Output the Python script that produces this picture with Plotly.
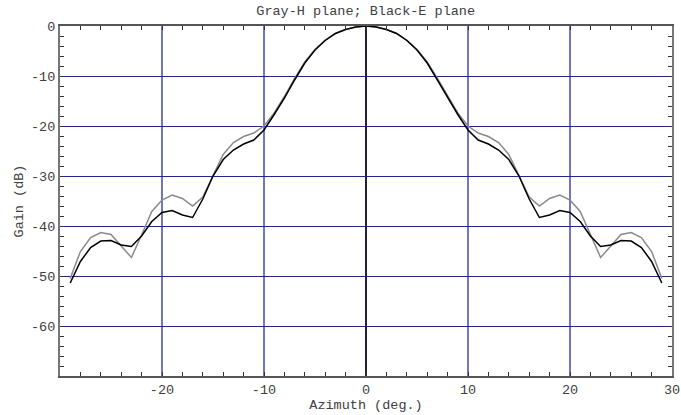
import plotly.graph_objects as go

azimuth = list(range(-29, 30))

e_plane = [-51.4, -47.1, -44.3, -43.0, -42.9, -43.8, -44.1, -42.0, -39.1, -37.3,
           -36.9, -37.8, -38.3, -34.6, -30.0, -26.7, -24.8, -23.6, -22.8, -20.8,
           -17.7, -14.4, -10.8, -7.4, -4.8, -2.9, -1.5, -0.7, -0.2, 0.0,
           -0.2, -0.7, -1.5, -2.9, -4.8, -7.4, -10.8, -14.4, -17.7, -20.8,
           -22.8, -23.6, -24.8, -26.7, -30.0, -34.6, -38.3, -37.8, -36.9, -37.3,
           -39.1, -42.0, -44.1, -43.8, -42.9, -43.0, -44.3, -47.1, -51.4]

h_plane = [-50.5, -45.1, -42.3, -41.3, -41.7, -44.0, -46.3, -41.8, -37.1, -34.8,
           -33.8, -34.5, -36.0, -34.2, -29.8, -25.7, -23.3, -22.1, -21.4, -20.0,
           -17.4, -14.1, -10.5, -7.2, -4.7, -2.8, -1.5, -0.7, -0.2, 0.0,
           -0.2, -0.7, -1.5, -2.8, -4.7, -7.2, -10.5, -14.1, -17.4, -20.0,
           -21.4, -22.1, -23.3, -25.7, -29.8, -34.2, -36.0, -34.5, -33.8, -34.8,
           -37.1, -41.8, -46.3, -44.0, -41.7, -41.3, -42.3, -45.1, -50.5]

x_tickvals = [-20, -10, 0, 10, 20, 30]
x_ticktext = ["-20", "-10", "0", "10", "20", "30"]
y_tickvals = [0, -10, -20, -30, -40, -50, -60]
y_ticktext = ["0", "-10", "-20", "-30", "-40", "-50", "-60"]

FONT = "Liberation Mono, Courier New, monospace"
FS = 13.5
TXT = "#404040"

fig = go.Figure()
fig.add_trace(go.Scatter(x=azimuth, y=h_plane, mode="lines",
                         line=dict(color="#8a8a8a", width=1.5), name="H plane"))
fig.add_trace(go.Scatter(x=azimuth, y=e_plane, mode="lines",
                         line=dict(color="#000000", width=1.5), name="E plane"))

fig.update_layout(
    width=681, height=415,
    margin=dict(l=60, r=9, t=26, b=39),
    paper_bgcolor="white", plot_bgcolor="white",
    showlegend=False,
    font=dict(family=FONT, size=FS, color=TXT),
    title=dict(text="Gray-H plane; Black-E plane", x=0.537, xanchor="center",
               y=0.976, yanchor="middle", automargin=False,
               font=dict(family=FONT, size=FS, color=TXT)),
)

fig.update_xaxes(
    range=[-30, 30], tickvals=x_tickvals, ticktext=x_ticktext, automargin=False,
    showgrid=True, gridcolor="#7474c4", gridwidth=2,
    zeroline=True, zerolinecolor="#20203c", zerolinewidth=2,
    showline=True, linecolor="#555555", linewidth=1.5, mirror="ticks",
    ticks="inside", ticklen=4, tickcolor="#333333",
    minor=dict(dtick=2, tick0=0, ticks="inside", ticklen=4, tickcolor="#333333", showgrid=False),
    title=dict(text="Azimuth (deg.)", standoff=0, font=dict(family=FONT, size=FS, color=TXT)),
)
fig.update_yaxes(
    range=[-70, 0], tickvals=y_tickvals, ticktext=y_ticktext, automargin=False,
    showgrid=True, gridcolor="#24248e", gridwidth=1,
    zeroline=False,
    showline=True, linecolor="#777777", linewidth=2, mirror="ticks",
    ticks="inside", ticklen=4, tickcolor="#333333",
    minor=dict(dtick=2, tick0=0, ticks="inside", ticklen=4, tickcolor="#333333", showgrid=False),
    title=dict(text="Gain (dB)", standoff=4, font=dict(family=FONT, size=FS, color=TXT)),
)

fig.write_html("out.html", config={"displayModeBar": False},
               post_script="document.body.style.margin='0';")
